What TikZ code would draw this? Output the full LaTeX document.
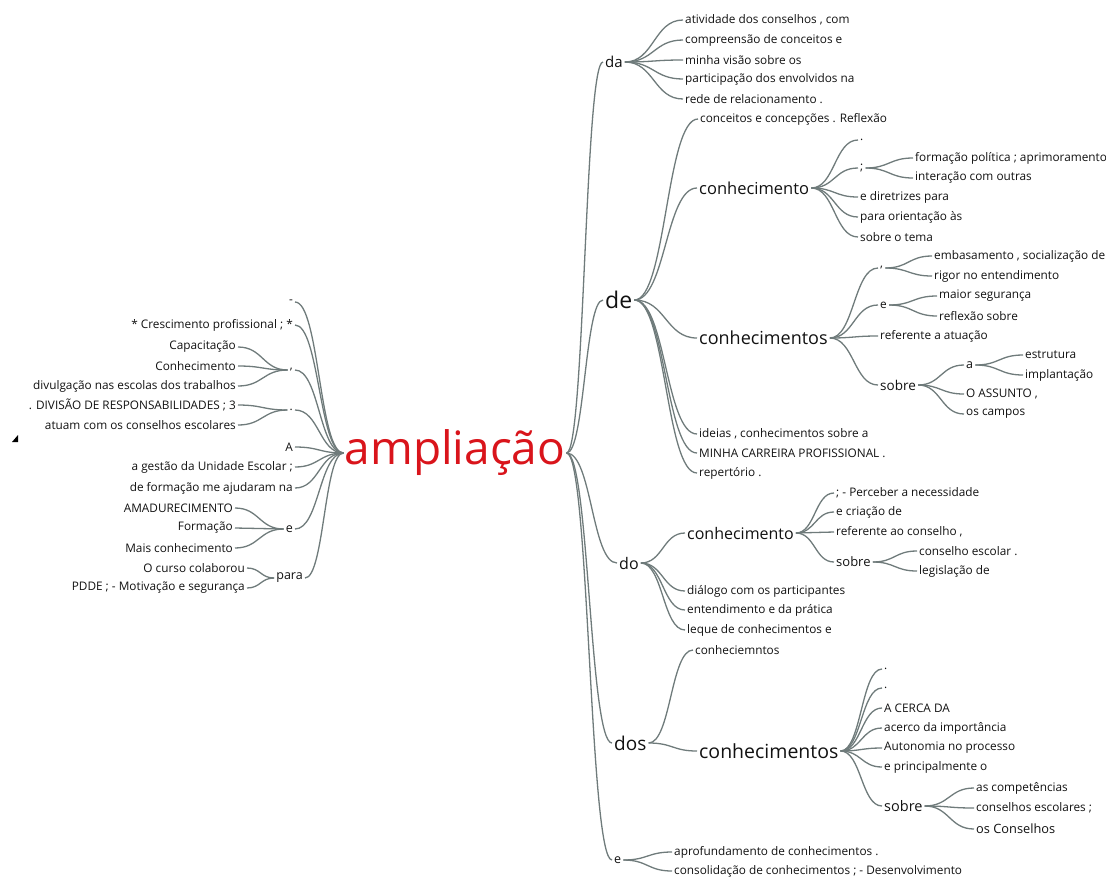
\documentclass[tikz,border=0pt]{standalone}
\usepackage{fontspec}
\setmainfont{Open Sans}
\usetikzlibrary{calc}

\definecolor{linkgray}{HTML}{6F7B7B}
\definecolor{rootred}{HTML}{D9141B}
\definecolor{wordblack}{HTML}{111111}

\tikzset{
  wt/.style={to path={.. controls ($(\tikztostart)!0.5!(\tikztotarget |- \tikztostart)$)
      and ($(\tikztotarget)!0.5!(\tikztostart |- \tikztotarget)$) .. (\tikztotarget)}},
  link/.style={draw=linkgray, line width=1.3pt},
  fs/.style={font=\fontsize{#1}{#1}\selectfont},
  w/.style={fs=11.8, inner sep=2pt, text=wordblack},
  r/.style={w, anchor=west},
  l/.style={w, anchor=east},
}

\begin{document}
\begin{tikzpicture}[x=1pt, y=-1pt]
\useasboundingbox (0,0) rectangle (1106,876);

\fill[black] (12,442) -- (18,442) -- (18,435) -- cycle;

\node[fs=46, text=rootred, inner sep=1pt] (amp) at (455,453) {ampliação};

% -------- left side -----------
\node[l] (l1) at (295,302) {-};
\node[l] (l2) at (295,325) {* Crescimento profissional ; *};
\node[l] (lc) at (295,370) {,};
\node[l] (lc1) at (238,347) {Capacitação};
\node[l] (lc2) at (238,366) {Conhecimento};
\node[l] (lc3) at (238,386) {divulgação nas escolas dos trabalhos};
\node[l] (ld) at (295,410) {.};
\node[l] (ld1) at (238,405) {. DIVISÃO DE RESPONSABILIDADES ; 3};
\node[l] (ld2) at (238,425) {atuam com os conselhos escolares};
\node[l] (la) at (295,447) {A};
\node[l] (lg) at (295,467) {a gestão da Unidade Escolar ;};
\node[l] (lf) at (295,488) {de formação me ajudaram na};
\node[l,fs=12.5] (le) at (295,529) {e};
\node[l] (le1) at (235,508) {AMADURECIMENTO};
\node[l] (le2) at (235,528) {Formação};
\node[l] (le3) at (235,548) {Mais conhecimento};
\node[l,fs=12.5] (lp) at (305,578) {para};
\node[l] (lp1) at (247,568) {O curso colaborou};
\node[l] (lp2) at (247,588) {PDDE ; - Motivação e segurança};

\foreach \c in {l1,l2,lc,ld,la,lg,lf,le,lp}
  \draw[link] (\c.east) to[wt] (amp.west);
\foreach \c in {lc1,lc2,lc3} \draw[link] (\c.east) to[wt] (lc.west);
\foreach \c in {ld1,ld2} \draw[link] (\c.east) to[wt] (ld.west);
\foreach \c in {le1,le2,le3} \draw[link] (\c.east) to[wt] (le.west);
\foreach \c in {lp1,lp2} \draw[link] (\c.east) to[wt] (lp.west);

% -------- da -----------
\node[r,fs=15] (da) at (603,62) {da};
\node[r] (da1) at (683,20) {atividade dos conselhos , com};
\node[r] (da2) at (683,40) {compreensão de conceitos e};
\node[r] (da3) at (683,60) {minha visão sobre os};
\node[r] (da4) at (683,79) {participação dos envolvidos na};
\node[r] (da5) at (683,99) {rede de relacionamento .};
\foreach \c in {da1,da2,da3,da4,da5} \draw[link] (da.east) to[wt] (\c.west);

% -------- de -----------
\node[r,fs=23] (de) at (603,300) {de};
\node[r] (de1) at (698,119) {conceitos e concepções . Reflexão};
\node[r,fs=16.5] (dek) at (697,188) {conhecimento};
\node[r] (dek1) at (858,140) {.};
\node[r] (dek2) at (858,168) {;};
\node[r] (dek21) at (913,158) {formação política ; aprimoramento};
\node[r] (dek22) at (913,178) {interação com outras};
\node[r] (dek3) at (858,197) {e diretrizes para};
\node[r] (dek4) at (858,217) {para orientação às};
\node[r] (dek5) at (858,237) {sobre o tema};
\node[r,fs=18] (des) at (697,338) {conhecimentos};
\node[r] (des1) at (878,268) {,};
\node[r] (des11) at (932,256) {embasamento , socialização de};
\node[r] (des12) at (932,276) {rigor no entendimento};
\node[r] (des2) at (878,305) {e};
\node[r] (des21) at (937,296) {maior segurança};
\node[r] (des22) at (937,316) {reflexão sobre};
\node[r] (des3) at (878,336) {referente a atuação};
\node[r,fs=13.5] (des4) at (878,385) {sobre};
\node[r,fs=12.5] (sa) at (964,365) {a};
\node[r] (sa1) at (1023,355) {estrutura};
\node[r] (sa2) at (1023,375) {implantação};
\node[r] (sb) at (964,394) {O ASSUNTO ,};
\node[r] (sc) at (964,414) {os campos};
\node[r] (de3) at (697,434) {ideias , conhecimentos sobre a};
\node[r] (de4) at (697,453) {MINHA CARREIRA PROFISSIONAL .};
\node[r] (de5) at (697,473) {repertório .};
\foreach \c in {de1,dek,des,de3,de4,de5} \draw[link] (de.east) to[wt] (\c.west);
\foreach \c in {dek1,dek2,dek3,dek4,dek5} \draw[link] (dek.east) to[wt] (\c.west);
\foreach \c in {dek21,dek22} \draw[link] (dek2.east) to[wt] (\c.west);
\foreach \c in {des1,des2,des3,des4} \draw[link] (des.east) to[wt] (\c.west);
\foreach \c in {des11,des12} \draw[link] (des1.east) to[wt] (\c.west);
\foreach \c in {des21,des22} \draw[link] (des2.east) to[wt] (\c.west);
\foreach \c in {sa,sb,sc} \draw[link] (des4.east) to[wt] (\c.west);
\foreach \c in {sa1,sa2} \draw[link] (sa.east) to[wt] (\c.west);

% -------- do -----------
\node[r,fs=16] (do) at (617,563) {do};
\node[r,fs=16] (dok) at (685,533) {conhecimento};
\node[r] (dok1) at (834,493) {; - Perceber a necessidade};
\node[r] (dok2) at (834,512) {e criação de};
\node[r] (dok3) at (834,532) {referente ao conselho ,};
\node[r,fs=13] (dok4) at (834,562) {sobre};
\node[r] (dok41) at (917,551) {conselho escolar .};
\node[r] (dok42) at (917,571) {legislação de};
\node[r] (do2) at (685,591) {diálogo com os participantes};
\node[r] (do3) at (685,610) {entendimento e da prática};
\node[r] (do4) at (685,630) {leque de conhecimentos e};
\foreach \c in {dok,do2,do3,do4} \draw[link] (do.east) to[wt] (\c.west);
\foreach \c in {dok1,dok2,dok3,dok4} \draw[link] (dok.east) to[wt] (\c.west);
\foreach \c in {dok41,dok42} \draw[link] (dok4.east) to[wt] (\c.west);

% -------- dos -----------
\node[r,fs=19] (dos) at (612,743) {dos};
\node[r] (dos1) at (693,650) {conheciemntos};
\node[r,fs=19.5] (dosk) at (697,751) {conhecimentos};
\node[r] (dosk1) at (882,669) {.};
\node[r] (dosk2) at (882,688) {.};
\node[r] (dosk3) at (882,708) {A CERCA DA};
\node[r] (dosk4) at (882,728) {acerco da importância};
\node[r] (dosk5) at (882,748) {Autonomia no processo};
\node[r] (dosk6) at (882,767) {e principalmente o};
\node[r,fs=14.5] (doss) at (882,806) {sobre};
\node[r] (doss1) at (974,788) {as competências};
\node[r] (doss2) at (974,808) {conselhos escolares ;};
\node[r,fs=12.8] (doss3) at (974,829) {os Conselhos};
\foreach \c in {dos1,dosk} \draw[link] (dos.east) to[wt] (\c.west);
\foreach \c in {dosk1,dosk2,dosk3,dosk4,dosk5,dosk6,doss} \draw[link] (dosk.east) to[wt] (\c.west);
\foreach \c in {doss1,doss2,doss3} \draw[link] (doss.east) to[wt] (\c.west);

% -------- e -----------
\node[r,fs=12.5] (eb) at (612,860) {e};
\node[r] (eb1) at (672,852) {aprofundamento de conhecimentos .};
\node[r] (eb2) at (672,871) {consolidação de conhecimentos ; - Desenvolvimento};
\foreach \c in {eb1,eb2} \draw[link] (eb.east) to[wt] (\c.west);

\foreach \c in {da,de,do,dos,eb} \draw[link] (amp.east) to[wt] (\c.west);
\end{tikzpicture}
\end{document}
